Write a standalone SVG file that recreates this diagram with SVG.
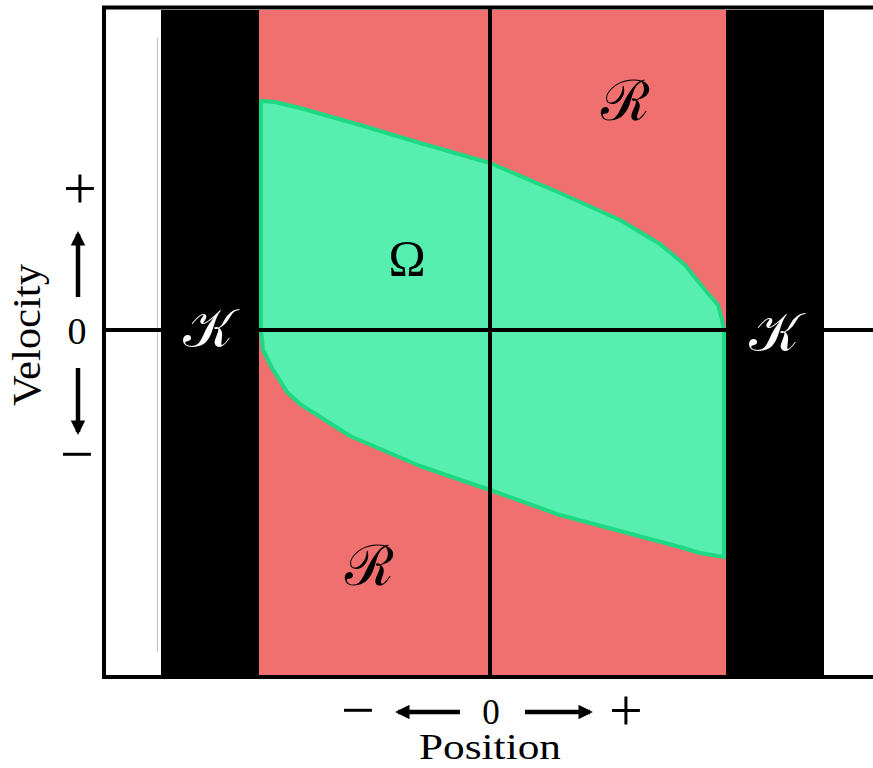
<svg xmlns="http://www.w3.org/2000/svg" width="873" height="768" viewBox="0 0 873 768">
<defs>
<style>
.lbl{font-family:"Liberation Serif","DejaVu Serif",serif;fill:#000}
.cal{font-family:"DejaVu Serif","Liberation Serif",serif}
.ax{stroke:#000;stroke-width:4;fill:none}
.arr{stroke:#000;stroke-width:4.5;fill:none;marker-end:url(#ah)}
</style>
<marker id="ah" viewBox="0 0 10 10" refX="8" refY="5" markerWidth="3.2" markerHeight="3.2" orient="auto" markerUnits="strokeWidth">
<path d="M0,0 L10,5 L0,10 z" fill="#000"/>
</marker>
</defs>
<rect width="873" height="768" fill="#fff"/>
<g id="regions">
<rect id="region-R" x="259" y="10" width="467" height="665" fill="#f07070"/>
<rect id="K-left" x="161" y="10" width="98" height="665" fill="#000"/>
<rect id="K-right" x="726" y="10" width="98" height="665" fill="#000"/>
<path d="M157.5,38 V652" stroke="#c8c8c8" stroke-width="1.2" fill="none"/>
<path id="omega" d="M261,101 L275,102 L300,108 L360,125 L420,143 L490,163 L560,193 L620,220 L660,244 L685,265 L705,290 L718,305 L722,320 L724,330 L724,557 L700,553 L680,547 L620,531 L560,515 L490,490 L420,466 L350,436 L300,404 L287,392 L272,368 L263,350 L261,330 Z" fill="#57efb0" stroke="#1ed884" stroke-width="4" stroke-linejoin="round"/>
</g>
<g id="connectors">
<path class="ax" d="M490,8 V677"/>
<path class="ax" d="M103,330 H873"/>
<path class="ax" d="M104,6 V679"/>
<path class="ax" d="M102,7.5 H873"/>
<path class="ax" d="M102,677 H873"/>
<path class="arr" d="M78,297 V234"/>
<path class="arr" d="M78,368 V432"/>
<path class="arr" d="M460,712 H398"/>
<path class="arr" d="M525,712 H590"/>
</g>
<g id="labels">
<text class="lbl" x="80" y="208" font-size="60" text-anchor="middle">+</text>
<text class="lbl" x="77" y="344" font-size="38" text-anchor="middle">0</text>
<text class="lbl" x="77" y="474" font-size="60" text-anchor="middle">−</text>
<text class="lbl" font-size="40" text-anchor="middle" textLength="142" lengthAdjust="spacingAndGlyphs" transform="translate(40,335) rotate(-90)">Velocity</text>
<text class="lbl" x="358" y="730" font-size="60" text-anchor="middle">−</text>
<text class="lbl" x="491" y="724" font-size="35" text-anchor="middle">0</text>
<text class="lbl" x="626" y="730" font-size="60" text-anchor="middle">+</text>
<text class="lbl" x="490" y="759" font-size="35" text-anchor="middle" textLength="142" lengthAdjust="spacingAndGlyphs">Position</text>
<text class="lbl" x="407" y="275" font-size="50" text-anchor="middle">Ω</text>
<text class="cal" x="208" y="347" font-size="54" fill="#fff" text-anchor="middle">𝒦</text>
<text class="cal" x="774" y="351" font-size="54" fill="#fff" text-anchor="middle">𝒦</text>
<text class="cal" x="625" y="120" font-size="56" fill="#000" text-anchor="middle">ℛ</text>
<text class="cal" x="369" y="585" font-size="56" fill="#000" text-anchor="middle">ℛ</text>
</g>
</svg>
